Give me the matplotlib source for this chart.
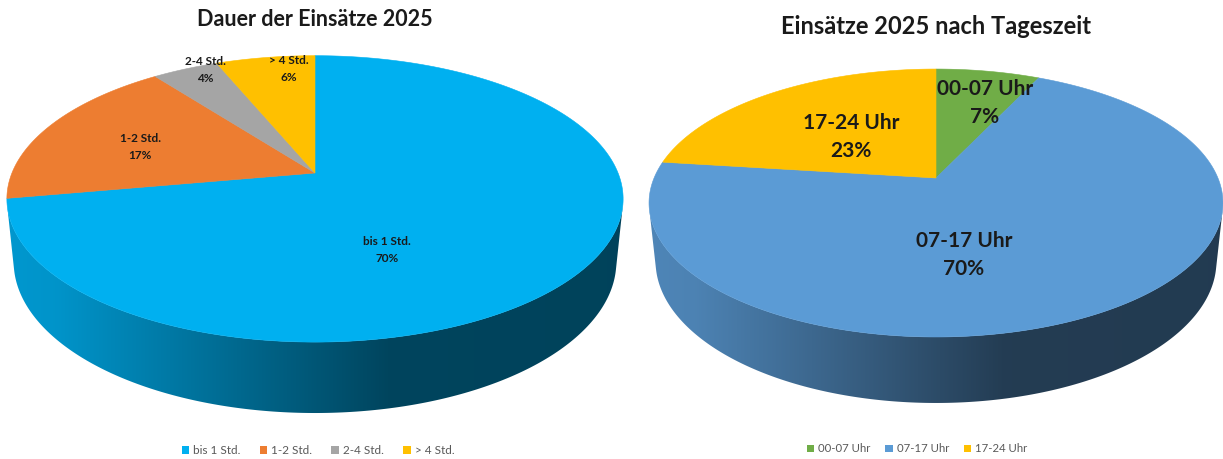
import numpy as np
import matplotlib
matplotlib.use('Agg')
import matplotlib.pyplot as plt
from matplotlib.patches import Polygon, Patch
from matplotlib.colors import to_rgb

plt.rcParams['font.family'] = ['Lato', 'DejaVu Sans']

# --- data ---
dauer_title = 'Dauer der Einsätze 2025'
dauer_labels = ['bis 1 Std.', '1-2 Std.', '2-4 Std.', '> 4 Std.']
dauer_pct = [70, 17, 4, 6]
dauer_colors = ['#00B0F0', '#ED7D31', '#A5A5A5', '#FFC000']

zeit_title = 'Einsätze 2025 nach Tageszeit'
zeit_labels = ['00-07 Uhr', '07-17 Uhr', '17-24 Uhr']
zeit_pct = [7, 70, 23]
zeit_colors = ['#70AD47', '#5B9BD5', '#FFC000']

# label text positions (pixels)
dauer_label_xy = [(387, 250), (140, 147), (205, 70), (289, 69)]
zeit_label_xy = [(985, 103), (964, 255), (851, 137)]


def project(X, Y, Z, p):
    s, c = np.sin(p['elev']), np.cos(p['elev'])
    den = p['D'] - Y * c - Z * s
    x = p['cx'] + p['F'] * X / den
    y = p['cy'] + p['F'] * (Y * s - Z * c) / den
    return np.column_stack([x, y])


def side_gradient(color):
    t = np.linspace(0, 1, 256)
    f = np.interp(t, [0, 0.08, 0.62, 1], [0.86, 0.84, 0.39, 0.38])
    return np.array(to_rgb(color))[None, None, :] * f[None, :, None]


def draw_pie3d(ax, values, colors, p):
    values = np.asarray(values, dtype=float)
    bounds = np.concatenate([[0], np.cumsum(values)]) / values.sum() * 2 * np.pi
    c = np.cos(p['elev'])
    W = p['F'] / np.sqrt(p['D'] ** 2 - c ** 2)
    lo = np.arccos(-1 / (p['D'] * c))
    hi = 2 * np.pi - lo

    # side walls (front part only)
    for i, col in enumerate(colors):
        a, b = max(bounds[i], lo), min(bounds[i + 1], hi)
        if a >= b:
            continue
        th = np.linspace(a, b, 200)
        top = project(np.sin(th), -np.cos(th), 0 * th, p)
        bot = project(np.sin(th), -np.cos(th), 0 * th - p['h'], p)
        poly = Polygon(np.vstack([top, bot[::-1]]), closed=True,
                       facecolor='none', edgecolor='none')
        ax.add_patch(poly)
        im = ax.imshow(side_gradient(col), extent=(p['cx'] - W, p['cx'] + W,
                       bot[:, 1].max() + 3, top[:, 1].min() - 3),
                       aspect='auto', interpolation='bilinear', zorder=1)
        im.set_clip_path(poly)

    # top faces
    for i, col in enumerate(colors):
        th = np.linspace(bounds[i], bounds[i + 1], 300)
        arc = project(np.sin(th), -np.cos(th), 0 * th, p)
        pts = np.vstack([[p['cx'], p['cy']], arc])
        ax.add_patch(Polygon(pts, closed=True, facecolor=col, edgecolor=col,
                             linewidth=0.4, zorder=2))


fig = plt.figure(figsize=(12.23, 4.59), dpi=100)
ax1 = fig.add_axes([0, 0, 630 / 1223, 1])
ax2 = fig.add_axes([630 / 1223, 0, 593 / 1223, 1])

left = dict(cx=315, cy=173, F=1491, D=4.92, elev=np.radians(27.2), h=0.235)
right = dict(cx=936, cy=178, F=1342, D=4.76, elev=np.radians(27.3), h=0.2345)

draw_pie3d(ax1, dauer_pct, dauer_colors, left)
draw_pie3d(ax2, zeit_pct, zeit_colors, right)

for ax in (ax1, ax2):
    ax.set_ylim(459, 0)
    ax.axis('off')
ax1.set_xlim(0, 630)
ax2.set_xlim(630, 1223)

ax1.text(315, 20, dauer_title, ha='center', va='center', fontsize=15.5,
         fontweight='bold', color='#1a1a1a', zorder=5)
ax2.text(936, 27, zeit_title, ha='center', va='center', fontsize=17,
         fontweight='bold', color='#1a1a1a', zorder=5)

for (x, y), lab, v in zip(dauer_label_xy, dauer_labels, dauer_pct):
    ax1.text(x, y, f'{lab}\n{v}%', ha='center', va='center', fontsize=8.5,
             fontweight='bold', color='#1a1a1a', linespacing=1.7, zorder=5)
for (x, y), lab, v in zip(zeit_label_xy, zeit_labels, zeit_pct):
    ax2.text(x, y, f'{lab}\n{v}%', ha='center', va='center', fontsize=15,
             fontweight='bold', color='#1a1a1a', linespacing=1.55, zorder=5)

h1 = [Patch(facecolor=c, edgecolor='none') for c in dauer_colors]
ax1.legend(h1, dauer_labels, loc='center', bbox_to_anchor=(318, 451),
           bbox_transform=ax1.transData, ncol=4, frameon=False, fontsize=8.5,
           handlelength=0.65, handleheight=0.65, handletextpad=0.35,
           columnspacing=1.6, labelcolor='#595959')
h2 = [Patch(facecolor=c, edgecolor='none') for c in zeit_colors]
ax2.legend(h2, zeit_labels, loc='center', bbox_to_anchor=(917, 449),
           bbox_transform=ax2.transData, ncol=3, frameon=False, fontsize=8.2,
           handlelength=0.65, handleheight=0.65, handletextpad=0.35,
           columnspacing=1.3, labelcolor='#595959')

fig.savefig('out.png', dpi=100)
